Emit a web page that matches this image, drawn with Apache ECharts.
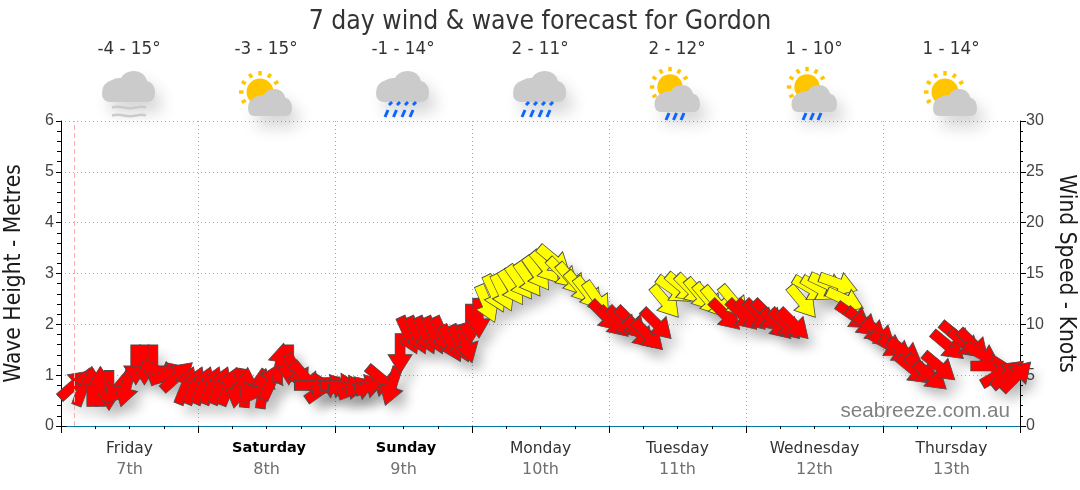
<!DOCTYPE html>
<html><head><meta charset="utf-8">
<style>html,body{margin:0;padding:0;background:#fff}#c{width:1080px;height:490px}</style>
<script src="https://cdn.jsdelivr.net/npm/echarts@6/dist/echarts.min.js"></script>
</head><body><div id="c"></div>
<script>
const titleText = '7 day wind & wave forecast for Gordon';
const dayNames = ['Friday','Saturday','Sunday','Monday','Tuesday','Wednesday','Thursday'];
const dayDates = ['7th','8th','9th','10th','11th','12th','13th'];
const weekend = ['Saturday','Sunday'];
const temps = ['-4 - 15°','-3 - 15°','-1 - 14°','2 - 11°','2 - 12°','1 - 10°','1 - 14°'];
const icons = ['fog','sun','rain','rain','sunrain','sunrain','sun'];
const nowHour = 2.37;
const hours = [2.4,3.9,5.4,6.9,8.4,9.9,11.4,13.1,14.6,16.1,17.4,18.9,20.4,
 21.9,23.4,24.9,26.4,27.9,29.4,30.9,32.4,33.9,35.4,36.9,38.4,39.9,
 41.4,42.9,44.4,45.9,47.4,48.9,50.4,51.9,53.4,54.9,56.4,57.9,59.4,
 60.9,62.4,63.9,65.4,66.9,68.4,69.9,71.0,71.7,73.1,
 74.6,76.0,77.4,79.0,80.4,81.9,83.4,84.9,86.4,87.9,89.4,90.9,92.4,93.9,
 95.4,96.9,98.4,99.9,101.4,102.9,104.4,105.9,107.4,108.9,110.4,111.9,113.4,114.9,
 116.4,117.9,119.4,120.9,122.4,123.9,125.4,126.9,128.4,129.9,131.4,132.9,134.4,136.2,137.4,
 138.9,140.4,141.9,143.4,144.9,146.4,147.9,149.4,150.9,152.4,153.9,155.4,156.9,158.4,159.9,161.4,162.9,164.4,165.9,167.4];
const wind = [4.1,3.9,3.9,3.9,3.5,3.7,3.8,6.0,6.0,6.0,5.3,5.1,4.9,
 4.0,4.0,4.0,4.0,4.0,3.9,3.7,3.8,3.8,3.7,4.4,6.2,6.0,
 5.3,4.7,4.0,3.7,3.9,4.0,3.8,3.7,3.9,4.0,4.5,3.9,7.1,
 8.9,8.9,8.9,8.9,8.9,8.1,8.1,8.1,10.0,10.6,
 12.0,13.0,13.1,13.6,14.1,14.4,15.0,15.6,16.3,15.0,14.4,13.6,13.0,12.5,
 10.8,10.2,10.2,10.2,9.1,8.9,10.0,12.2,13.4,13.6,13.4,12.9,12.4,12.1,
 10.9,12.2,10.9,10.9,10.9,10.9,10.0,10.0,10.0,12.2,13.5,13.5,13.9,14.0,12.4,
 10.8,10.2,9.6,9.1,8.0,7.5,7.3,5.5,5.6,4.9,5.8,7.9,8.8,8.1,8.0,7.0,5.9,5.1,5.1,4.9];
const heading = [48,20,0,0,180,220,195,180,180,180,115,70,48,
 22,22,22,22,22,22,190,5,215,8,25,10,180,
 150,140,90,55,75,90,85,70,75,72,130,198,180,
 156,156,156,156,156,153,155,163,180,178,
 157,155,155,148,145,145,145,140,130,135,140,140,142,145,
 135,135,135,135,135,135,135,140,125,130,135,140,140,140,
 135,140,135,135,135,135,135,135,135,140,120,120,115,110,115,
 125,130,130,130,120,125,125,130,130,130,130,130,130,130,135,120,90,60,50,45];
const band = [0,0,0,0,0,0,0,0,0,0,0,0,0,
 0,0,0,0,0,0,0,0,0,0,0,0,0,
 0,0,0,0,0,0,0,0,0,0,0,0,0,
 0,0,0,0,0,0,0,0,0,0,
 1,1,1,1,1,1,1,1,1,1,1,1,1,1,
 0,0,0,0,0,0,0,1,1,1,1,1,1,1,
 0,1,0,0,0,0,0,0,0,1,1,1,1,1,1,
 0,0,0,0,0,0,0,0,0,0,0,0,0,0,0,0,0,0,0,0];
const bandColors = ['#ff0000','#ffff00'];

const FONT = '"DejaVu Sans Condensed","DejaVu Sans",sans-serif';
const FONT2 = '"DejaVu Sans",sans-serif';
const AXISFONT = '"Liberation Sans",Arial,sans-serif';
const ARROW = 'path://M12 0 L24 19 L17 19 L17 40 L7 40 L7 19 L0 19 Z';
const points = hours.map((h,i)=>({value:[h,wind[i]],symbolRotate:-heading[i],itemStyle:{color:bandColors[band[i]]}}));
const shadowPoints = hours.map((h,i)=>({value:[h,wind[i]],symbolRotate:-heading[i]}));

echarts.graphic.registerShape('cloudIcon', echarts.graphic.extendPath('M7 31 Q0 30 0 22 Q0 12 10 9 Q14 6.5 19 7 Q23 0 32 0 Q42 0 45 10 Q53 12 53 22 Q53 30 46 31 Z',{}));
echarts.graphic.registerShape('fogIcon', echarts.graphic.extendPath('M0 1.5 Q6 0 12 1.5 T24 1.5 T34 1.5',{}));
const shadow = {shadowBlur:16,shadowOffsetX:7,shadowOffsetY:11,shadowColor:'rgba(0,0,0,0.16)'};
function cloud(x,y,w,h){return {type:'cloudIcon',z:5,x,y,scaleX:w/53,scaleY:h/31,style:Object.assign({fill:'#cbcbcb'},shadow)};}
function sun(cx,cy,r){
  const els=[{type:'circle',z:4,shape:{cx,cy,r},style:{fill:'#ffc600'}}];
  [-120,-90,-60,-30,0,30,60].forEach(a=>{
    const r1=r+3, r2=r+7.5, rad=a*Math.PI/180;
    els.push({type:'line',z:4,shape:{x1:cx+Math.sin(rad)*r1,y1:cy-Math.cos(rad)*r1,x2:cx+Math.sin(rad)*r2,y2:cy-Math.cos(rad)*r2},style:{stroke:'#ffc600',lineWidth:3.4}});
  });
  return els;
}
function rain(xs,y1,y2){return xs.map(x=>({type:'line',z:5,shape:{x1:x+2,y1,x2:x-1,y2},style:{stroke:'#0a66ff',lineWidth:3}}));}
function fog(x,y){return [0,8].map(d=>({type:'fogIcon',z:5,x,y:y+d,style:{fill:null,stroke:'#cbcbcb',lineWidth:2.4}}));}
const dayW = 137;
const g = [];
icons.forEach((k,i)=>{
  const o = dayW*i;
  g.push({type:'text',z:6,style:{text:temps[i],x:129+o,y:50,align:'center',verticalAlign:'middle',font:'16.8px '+FONT2,fill:'#333'}});
  if(k==='fog'){g.push(cloud(102+o,71,53,31)); g.push(...fog(112+o,106));}
  if(k==='rain'){g.push(cloud(102+o,71,53,31)); g.push(...rain([114,122,130,138].map(v=>v+2+o),102,105)); g.push(...rain([110,118.5,127,135].map(v=>v+2+o),110,117));}
  if(k==='sun'){g.push(...sun(260+o-137,92,13.5)); g.push(cloud(248+o-137,89,44,27));}
  if(k==='sunrain'){g.push(...sun(260+o-137-1,87,12.7)); g.push(cloud(243.5+o-137,85,45.5,27)); g.push(...rain([256,263.5,271].map(v=>v+o-137),113,120));}
});
g.push({type:'text',z:6,style:{text:'seabreeze.com.au',x:1010,y:411,align:'right',verticalAlign:'middle',font:'20.6px "Liberation Sans",Arial,sans-serif',fill:'#808080'}});
g.push({type:'line',z:6,shape:{x1:56.5,y1:426.5,x2:66.5,y2:426.5},style:{stroke:'#000',lineWidth:1}});

const chart = echarts.init(document.getElementById('c'),null,{renderer:'canvas'});
const dotted = {show:true,lineStyle:{color:'#aaa',type:[1,3],width:1}};
chart.setOption({
  animation:false,
  backgroundColor:'#fff',
  title:{text:titleText,left:'center',top:4,textStyle:{fontFamily:FONT,fontSize:26.3,fontWeight:'normal',color:'#333'}},
  grid:{left:61,right:60,top:121,height:305,containLabel:false,outerBoundsMode:'none'},
  xAxis:[
    {type:'value',min:0,max:168,interval:24,position:'bottom',
     axisLine:{show:true,onZero:false,lineStyle:{color:'#0078a8',width:1}},
     axisTick:{show:true,length:7,lineStyle:{color:'#000'}},
     minorTick:{show:true,splitNumber:4,length:3,lineStyle:{color:'#000'}},
     axisLabel:{show:false},splitLine:dotted},
    {type:'category',data:dayNames,position:'bottom',boundaryGap:true,
     axisLine:{show:false},axisTick:{show:false},splitLine:{show:false},
     axisLabel:{margin:12,interval:0,lineHeight:21,
       formatter:(v,i)=>`{${weekend.includes(v)?'b':'n'}|${v}}\n{d|${dayDates[i]}}`,
       rich:{n:{fontFamily:FONT2,fontSize:15.5,color:'#333',lineHeight:21},
             b:{fontFamily:FONT2,fontSize:14.5,fontWeight:'bold',color:'#000',lineHeight:21,padding:[0,0,0,5]},
             d:{fontFamily:FONT2,fontSize:16,color:'#707070',lineHeight:21}}}}
  ],
  yAxis:[
    {type:'value',min:0,max:6,interval:1,name:'Wave Height - Metres',nameLocation:'middle',nameGap:35,nameRotate:90,
     nameTextStyle:{fontFamily:FONT,fontSize:22.6,color:'#1a1a1a'},
     axisLine:{show:true,onZero:false,lineStyle:{color:'#000'}},
     axisTick:{show:true,length:5,lineStyle:{color:'#000'}},
     minorTick:{show:true,splitNumber:5,length:4,lineStyle:{color:'#000'}},
     axisLabel:{fontFamily:AXISFONT,fontSize:16,color:'#444',margin:7},splitLine:dotted},
    {type:'value',min:0,max:30,interval:5,position:'right',name:'Wind Speed - Knots',nameLocation:'middle',nameGap:34,nameRotate:-90,
     nameTextStyle:{fontFamily:FONT,fontSize:22.6,color:'#1a1a1a'},
     axisLine:{show:true,onZero:false,lineStyle:{color:'#000'}},
     axisTick:{show:true,length:6,lineStyle:{color:'#000'}},
     minorTick:{show:true,splitNumber:5,length:3,lineStyle:{color:'#000'}},
     axisLabel:{fontFamily:AXISFONT,fontSize:16,color:'#444',margin:6},splitLine:{show:false}}
  ],
  graphic:g,
  series:[
    {type:'line',name:'now',silent:true,xAxisIndex:0,yAxisIndex:1,z:1,data:[],
     markLine:{silent:true,symbol:'none',animation:false,label:{show:false},lineStyle:{color:'#ffaaaa',type:[5,3],width:1},emphasis:{disabled:true},data:[{xAxis:nowHour}]}},
    {type:'scatter',name:'shadow',silent:true,xAxisIndex:0,yAxisIndex:1,z:2,clip:false,symbol:ARROW,symbolSize:[24,40],data:shadowPoints,
     itemStyle:{color:'#cccccc',opacity:1,shadowBlur:12,shadowOffsetX:8,shadowOffsetY:10,shadowColor:'rgba(0,0,0,0.16)'}},
    {type:'scatter',name:'Wind',silent:true,xAxisIndex:0,yAxisIndex:1,z:3,clip:false,symbol:ARROW,symbolSize:[24,40],data:points,
     itemStyle:{borderColor:'#4a4a4a',borderWidth:0.8,opacity:1}}
  ]
});
</script></body></html>
